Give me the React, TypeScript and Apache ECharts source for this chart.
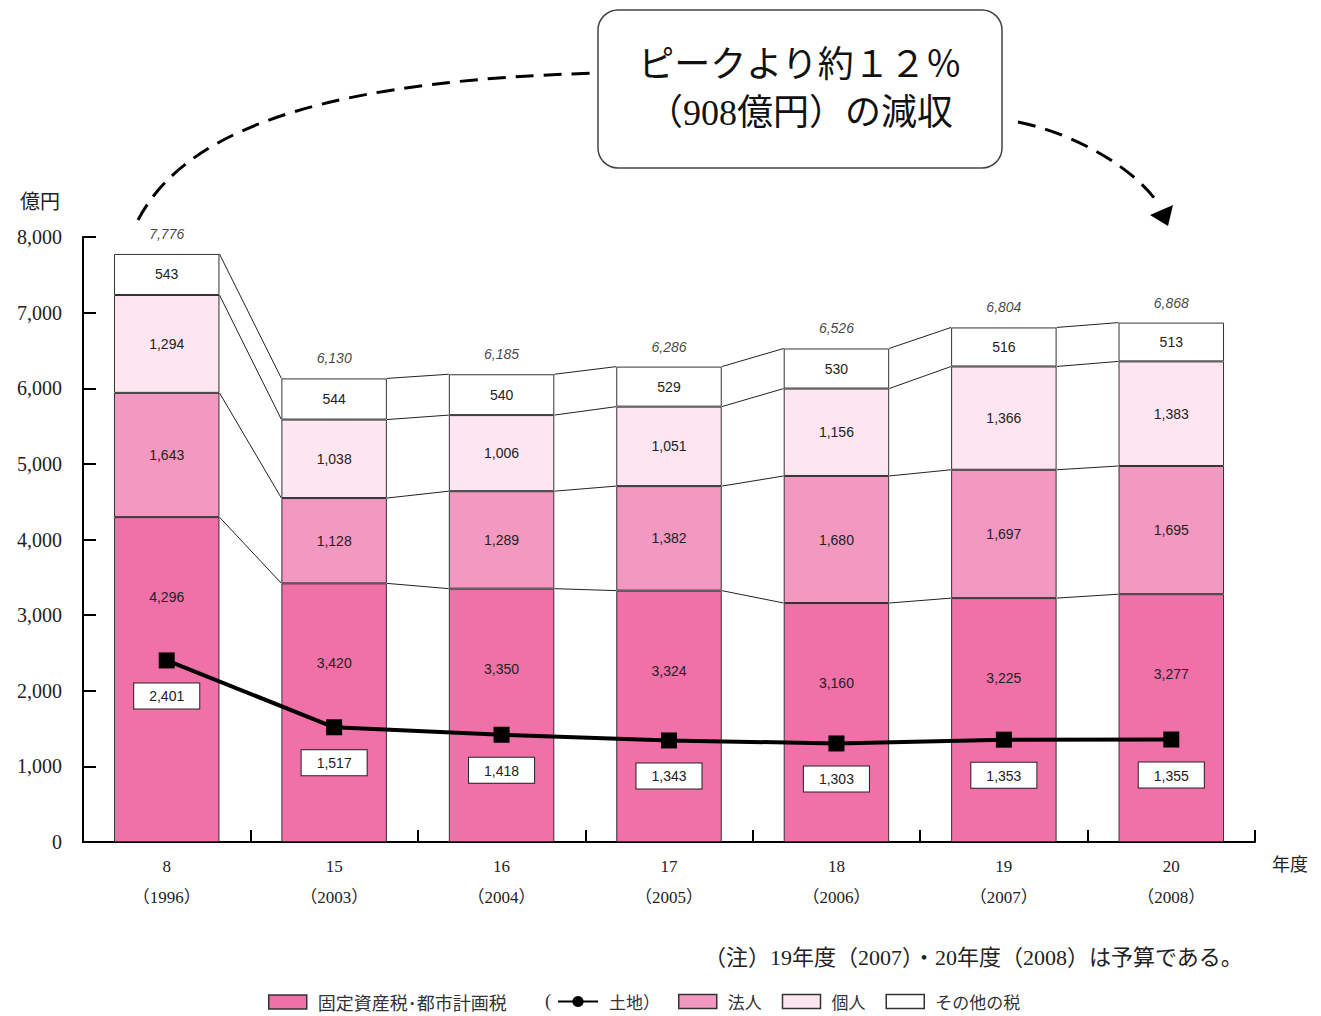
import React, { useEffect, useRef } from "react";
import * as echarts from "echarts";

// ---- data ----
const categories = ["8", "15", "16", "17", "18", "19", "20"];
const fiscalYears = ["1996", "2003", "2004", "2005", "2006", "2007", "2008"];
const fixedAssetTax = [4296, 3420, 3350, 3324, 3160, 3225, 3277];
const corporate = [1643, 1128, 1289, 1382, 1680, 1697, 1695];
const individual = [1294, 1038, 1006, 1051, 1156, 1366, 1383];
const otherTax = [543, 544, 540, 529, 530, 516, 513];
const land = [2401, 1517, 1418, 1343, 1303, 1353, 1355];

const seriesNames = ["固定資産税･都市計画税", "土地", "法人", "個人", "その他の税"];
const calloutLines = ["ピークより約１２％", "（908億円）の減収"];
const noteText = "（注）19年度（2007）・20年度（2008）は予算である。";
const yAxisTitle = "億円";
const xAxisTitle = "年度";

const BAR_RATIO = 0.63;
const SERIF = "'Liberation Serif', 'Noto Sans CJK JP', serif";
const SANS = "'Liberation Sans', 'Noto Sans CJK JP', sans-serif";
const CJK = "'Noto Sans CJK JP', sans-serif";

const fmt = (v: number) => v.toLocaleString("en-US");

export default function App() {
  const ref = useRef<HTMLDivElement>(null);

  useEffect(() => {
    document.body.style.margin = "0";
    if (!ref.current) return;
    const chart = echarts.init(ref.current, undefined, { renderer: "svg" });

    const n = categories.length;
    const levels = categories.map((_, i) => {
      const l1 = fixedAssetTax[i];
      const l2 = l1 + corporate[i];
      const l3 = l2 + individual[i];
      const l4 = l3 + otherTax[i];
      return [l1, l2, l3, l4];
    });
    const totals = levels.map((l) => l[3]);
    const connectorData = levels.map((l, i) => {
      const next = i < n - 1 ? levels[i + 1] : l;
      return [i, ...l, ...next];
    });

    const barBase = {
      type: "bar",
      stack: "total",
      barWidth: BAR_RATIO * 100 + "%",
      z: 2,
    };
    const innerLabel = {
      show: true,
      position: "inside",
      fontSize: 14,
      color: "#222",
      fontFamily: SANS,
      formatter: (p: any) => fmt(p.value),
    };
    const barItem = (color: string) => ({ color, borderColor: "#333", borderWidth: 1 });
    const legendText = {
      fontSize: 17,
      lineHeight: 17,
      color: "#333",
      fontFamily: CJK,
      padding: [0, 0, 0, 6],
    };
    const LEGEND_TOP = 993;

    const option: any = {
      animation: false,
      backgroundColor: "#fff",
      grid: { left: 83, right: 66, top: 237, bottom: 174, containLabel: false },
      xAxis: {
        type: "category",
        data: categories.map((c, i) => `${c}\n（${fiscalYears[i]}）`),
        boundaryGap: true,
        axisLine: { lineStyle: { color: "#000", width: 2 } },
        axisTick: { show: true, inside: true, length: 12, lineStyle: { color: "#000", width: 2 } },
        axisLabel: {
          margin: 9,
          fontSize: 17,
          lineHeight: 31,
          color: "#222",
          fontFamily: SERIF,
        },
      },
      yAxis: {
        type: "value",
        min: 0,
        max: 8000,
        interval: 1000,
        splitLine: { show: false },
        axisLine: { show: true, lineStyle: { color: "#000", width: 2 } },
        axisTick: { show: true, inside: true, length: 13, lineStyle: { color: "#000", width: 2 } },
        axisLabel: {
          margin: 21,
          fontSize: 20,
          color: "#222",
          fontFamily: SERIF,
          padding: [12, 0, 0, 0],
          formatter: (v: number) => fmt(v),
        },
      },
      legend: [
        {
          data: [{ name: seriesNames[0], icon: "rect" }],
          left: 268,
          top: LEGEND_TOP,
          padding: 0,
          itemWidth: 38,
          itemHeight: 14,
          selectedMode: false,
          itemStyle: { borderColor: "#333", borderWidth: 1.5 },
          textStyle: { ...legendText, fontSize: 18, lineHeight: 18 },
        },
        {
          data: [seriesNames[1]],
          left: 557,
          top: LEGEND_TOP,
          padding: 0,
          itemWidth: 40,
          itemHeight: 14,
          selectedMode: false,
          formatter: (name: string) => name + "）",
          textStyle: legendText,
        },
        {
          data: [
            { name: seriesNames[2], icon: "rect" },
            { name: seriesNames[3], icon: "rect" },
            { name: seriesNames[4], icon: "rect" },
          ],
          left: 678,
          top: LEGEND_TOP,
          padding: 0,
          itemWidth: 38,
          itemHeight: 14,
          itemGap: 20,
          selectedMode: false,
          itemStyle: { borderColor: "#333", borderWidth: 1.5 },
          textStyle: legendText,
        },
      ],
      series: [
        {
          ...barBase,
          name: seriesNames[0],
          data: fixedAssetTax,
          itemStyle: barItem("#f070a8"),
          label: { ...innerLabel, position: ["50%", 80], align: "center", verticalAlign: "middle" },
        },
        {
          ...barBase,
          name: seriesNames[2],
          data: corporate,
          itemStyle: barItem("#f398c0"),
          label: innerLabel,
        },
        {
          ...barBase,
          name: seriesNames[3],
          data: individual,
          itemStyle: barItem("#fde6f0"),
          label: innerLabel,
        },
        {
          ...barBase,
          name: seriesNames[4],
          data: otherTax,
          itemStyle: barItem("#ffffff"),
          label: innerLabel,
        },
        {
          type: "custom",
          name: "connectors",
          data: connectorData,
          encode: { x: 0, y: [1, 2, 3, 4, 5, 6, 7, 8] },
          z: 1,
          silent: true,
          renderItem: (params: any, api: any) => {
            const i = api.value(0);
            if (i >= n - 1) return { type: "group", children: [] };
            const bandW = api.size([1, 0])[0];
            const half = (bandW * BAR_RATIO) / 2;
            const children: any[] = [];
            for (let k = 0; k < 4; k++) {
              const p1 = api.coord([i, api.value(1 + k)]);
              const p2 = api.coord([i + 1, api.value(5 + k)]);
              children.push({
                type: "line",
                shape: { x1: p1[0] + half, y1: p1[1], x2: p2[0] - half, y2: p2[1] },
                style: { stroke: "#222", lineWidth: 1 },
              });
            }
            return { type: "group", children };
          },
        },
        {
          type: "scatter",
          name: "totals",
          data: totals,
          symbolSize: 0,
          z: 3,
          silent: true,
          label: {
            show: true,
            position: "top",
            distance: 13,
            fontSize: 14,
            fontStyle: "italic",
            color: "#111",
            fontFamily: SANS,
            formatter: (p: any) => fmt(p.value),
          },
        },
        {
          type: "line",
          name: seriesNames[1],
          data: land.map((v) => ({ value: v, symbol: "rect" })),
          symbol: "circle",
          symbolSize: 16,
          z: 5,
          lineStyle: { color: "#000", width: 4 },
          itemStyle: { color: "#000" },
          label: {
            show: true,
            position: "bottom",
            distance: 15,
            fontSize: 14,
            color: "#222",
            fontFamily: SANS,
            backgroundColor: "#fff",
            borderColor: "#222",
            borderWidth: 1,
            padding: [6, 15, 5, 15],
            formatter: (p: any) => fmt(p.value),
          },
        },
      ],
      graphic: [
        {
          type: "text",
          left: 20,
          top: 190,
          style: { text: yAxisTitle, fill: "#222", fontSize: 20, fontFamily: CJK },
        },
        {
          type: "text",
          left: 1272,
          top: 854,
          style: { text: xAxisTitle, fill: "#222", fontSize: 18, fontFamily: CJK },
        },
        {
          type: "text",
          left: 704,
          top: 946,
          style: { text: noteText, fill: "#222", fontSize: 22, fontFamily: SERIF },
        },
        {
          type: "text",
          left: 545,
          top: 991,
          style: { text: "(", fill: "#333", fontSize: 19, fontFamily: SERIF },
        },
        {
          type: "bezierCurve",
          z: 50,
          shape: { x1: 138, y1: 220, cpx1: 190, cpy1: 120, cpx2: 350, cpy2: 80, x2: 598, y2: 73 },
          style: { stroke: "#000", lineWidth: 3, fill: null, lineDash: [18, 10] },
        },
        {
          type: "bezierCurve",
          z: 50,
          shape: { x1: 1018, y1: 122, cpx1: 1080, cpy1: 135, cpx2: 1135, cpy2: 170, x2: 1158, y2: 203 },
          style: { stroke: "#000", lineWidth: 3, fill: null, lineDash: [18, 10] },
        },
        {
          type: "polygon",
          z: 50,
          shape: { points: [[1150, 215], [1173, 205], [1168, 226]] },
          style: { fill: "#000" },
        },
        {
          type: "rect",
          z: 60,
          shape: { x: 598, y: 10, width: 404, height: 158, r: 20 },
          style: { fill: "#fff", stroke: "#444", lineWidth: 1.5 },
        },
        {
          type: "text",
          z: 61,
          x: 800,
          y: 65,
          style: {
            text: calloutLines[0],
            fill: "#111",
            fontSize: 36,
            fontFamily: SERIF,
            align: "center",
            verticalAlign: "middle",
          },
        },
        {
          type: "text",
          z: 61,
          x: 800,
          y: 113,
          style: {
            text: calloutLines[1],
            fill: "#111",
            fontSize: 36,
            fontFamily: SERIF,
            align: "center",
            verticalAlign: "middle",
          },
        },
      ],
    };

    chart.setOption(option);
    return () => chart.dispose();
  }, []);

  return <div ref={ref} style={{ width: 1321, height: 1016 }} />;
}
